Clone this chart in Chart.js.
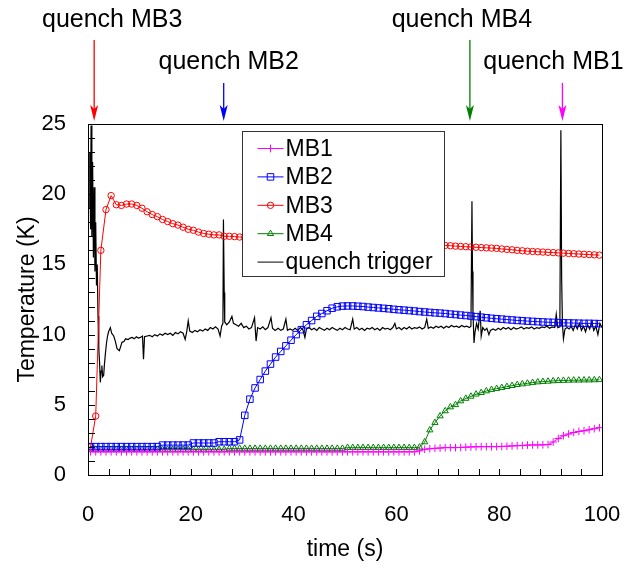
<!DOCTYPE html>
<html>
<head>
<meta charset="utf-8">
<script src="https://cdn.jsdelivr.net/npm/chart.js@4.4.0/dist/chart.umd.min.js"></script>
<style>
  html, body { margin: 0; padding: 0; background: #fff; }
</style>
</head>
<body>
<canvas id="quenchChart" width="625" height="571"></canvas>
<script>
// sample times of the magnet temperatures (s)
const seconds = [
  0.5, 1.5, 2.5, 3.5, 4.5, 5.5, 6.5, 7.5, 8.5, 9.5,
  10.5, 11.5, 12.5, 13.5, 14.5, 15.5, 16.5, 17.5, 18.5, 19.5,
  20.5, 21.5, 22.5, 23.5, 24.5, 25.5, 26.5, 27.5, 28.5, 29.5,
  30.5, 31.5, 32.5, 33.5, 34.5, 35.5, 36.5, 37.5, 38.5, 39.5,
  40.5, 41.5, 42.5, 43.5, 44.5, 45.5, 46.5, 47.5, 48.5, 49.5,
  50.5, 51.5, 52.5, 53.5, 54.5, 55.5, 56.5, 57.5, 58.5, 59.5,
  60.5, 61.5, 62.5, 63.5, 64.5, 65.5, 66.5, 67.5, 68.5, 69.5,
  70.5, 71.5, 72.5, 73.5, 74.5, 75.5, 76.5, 77.5, 78.5, 79.5,
  80.5, 81.5, 82.5, 83.5, 84.5, 85.5, 86.5, 87.5, 88.5, 89.5,
  90.5, 91.5, 92.5, 93.5, 94.5, 95.5, 96.5, 97.5, 98.5, 99.5
];

const mb1 = [
  1.65, 1.65, 1.65, 1.65, 1.65, 1.65, 1.65, 1.65, 1.65, 1.65,
  1.65, 1.65, 1.65, 1.65, 1.65, 1.65, 1.65, 1.65, 1.65, 1.65,
  1.65, 1.65, 1.65, 1.65, 1.65, 1.65, 1.65, 1.65, 1.65, 1.65,
  1.65, 1.65, 1.65, 1.65, 1.65, 1.65, 1.65, 1.65, 1.65, 1.65,
  1.65, 1.65, 1.65, 1.65, 1.65, 1.65, 1.65, 1.65, 1.65, 1.65,
  1.65, 1.65, 1.65, 1.65, 1.65, 1.65, 1.65, 1.65, 1.65, 1.65,
  1.65, 1.65, 1.65, 1.65, 1.72, 1.83, 1.87, 1.9, 1.92, 1.95,
  1.95, 1.95, 1.96, 1.98, 2.0, 2.01, 2.02, 2.02, 2.02, 2.02,
  2.03, 2.05, 2.07, 2.09, 2.1, 2.13, 2.14, 2.14, 2.15, 2.17,
  2.35, 2.6, 2.8, 2.92, 3.03, 3.1, 3.15, 3.22, 3.3, 3.37
];

const mb2 = [
  2.02, 2.02, 2.02, 2.02, 2.02, 2.02, 2.02, 2.02, 2.02, 2.02,
  2.02, 2.02, 2.02, 2.02, 2.13, 2.13, 2.13, 2.13, 2.13, 2.13,
  2.28, 2.28, 2.28, 2.28, 2.28, 2.37, 2.37, 2.37, 2.37, 2.5,
  4.25, 5.4, 6.2, 6.8, 7.4, 7.9, 8.4, 8.8, 9.2, 9.6,
  10.0, 10.35, 10.7, 11.0, 11.3, 11.5, 11.7, 11.88, 11.98, 12.03,
  12.04, 12.04, 12.02, 12.0, 11.96, 11.93, 11.9, 11.87, 11.84, 11.8,
  11.77, 11.74, 11.71, 11.68, 11.64, 11.61, 11.58, 11.55, 11.53, 11.5,
  11.46, 11.43, 11.39, 11.36, 11.32, 11.28, 11.24, 11.2, 11.16, 11.13,
  11.1, 11.07, 11.04, 11.01, 10.99, 10.96, 10.94, 10.92, 10.9, 10.88,
  10.87, 10.85, 10.84, 10.83, 10.82, 10.81, 10.8, 10.8, 10.79, 10.78
];

const mb3 = [
  2.0, 4.2, 16.0, 18.9, 19.9, 19.25, 19.2, 19.3, 19.3, 19.2,
  19.0, 18.75, 18.55, 18.4, 18.2, 18.05, 17.9, 17.8, 17.65, 17.5,
  17.43, 17.3, 17.2, 17.15, 17.1, 17.1, 17.0, 17.0, 16.98, 16.95,
  16.93, 16.9, 16.88, 16.86, 16.84, 16.82, 16.8, 16.78, 16.77, 16.75,
  16.73, 16.72, 16.7, 16.68, 16.67, 16.65, 16.64, 16.62, 16.61, 16.6,
  16.58, 16.57, 16.55, 16.54, 16.53, 16.52, 16.5, 16.49, 16.48, 16.47,
  16.46, 16.45, 16.44, 16.43, 16.42, 16.41, 16.4, 16.39, 16.37, 16.35,
  16.33, 16.3, 16.28, 16.26, 16.24, 16.22, 16.2, 16.18, 16.16, 16.14,
  16.1, 16.07, 16.04, 16.0, 15.97, 15.94, 15.92, 15.9, 15.88, 15.86,
  15.84, 15.82, 15.8, 15.78, 15.76, 15.74, 15.72, 15.7, 15.68, 15.66
];

const mb4 = [
  1.82, 1.82, 1.82, 1.82, 1.82, 1.82, 1.82, 1.82, 1.82, 1.82,
  1.82, 1.82, 1.82, 1.82, 1.82, 1.82, 1.82, 1.82, 1.82, 1.82,
  1.82, 1.82, 1.82, 1.82, 1.82, 1.82, 1.82, 1.89, 1.89, 1.89,
  1.89, 1.89, 1.89, 1.89, 1.89, 1.89, 1.89, 1.89, 1.89, 1.89,
  1.89, 1.89, 1.89, 1.89, 1.89, 1.89, 1.89, 1.89, 1.89, 1.89,
  1.95, 1.95, 1.95, 1.95, 1.95, 1.95, 1.95, 1.95, 1.95, 1.95,
  1.95, 1.95, 1.95, 1.95, 1.98, 2.35, 3.2, 3.73, 4.2, 4.56,
  4.84, 5.0, 5.27, 5.45, 5.6, 5.75, 5.86, 5.98, 6.08, 6.15,
  6.22, 6.29, 6.36, 6.43, 6.48, 6.53, 6.58, 6.62, 6.65, 6.67,
  6.7, 6.72, 6.73, 6.74, 6.75, 6.75, 6.76, 6.76, 6.77, 6.78
];

// quench trigger signal, own time base
const trigTime = [
  0.2, 0.35, 0.5, 0.6, 0.75, 0.9, 1.05, 1.2, 1.35, 1.5,
  1.65, 1.8, 1.95, 2.1, 2.25, 2.4, 2.55, 2.7, 2.85, 3.05,
  3.2, 3.4, 3.6, 3.8, 4.0, 4.35, 4.6, 5.0, 5.3, 5.65,
  6.1, 6.4, 6.6, 7.0, 7.3, 7.8, 8.2, 8.6, 9.0, 9.4,
  9.8, 10.2, 10.6, 10.8, 11.0, 11.5, 12.0, 12.5, 13.0, 13.5,
  14.0, 14.5, 15.0, 15.5, 16.0, 16.5, 17.0, 17.5, 18.0, 18.5,
  18.9, 19.2, 19.5, 19.8, 20.3, 20.8, 21.3, 21.8, 22.3, 22.8,
  23.3, 23.8, 24.3, 24.8, 25.3, 25.7, 26.0, 26.25, 26.35, 26.5,
  26.6, 27.0, 27.5, 28.0, 28.3, 28.8, 29.3, 29.8, 30.3, 30.8,
  31.3, 31.8, 32.4, 32.7, 33.0, 33.5, 34.0, 34.5, 35.0, 35.6,
  35.9, 36.4, 37.0, 37.5, 38.0, 38.5, 38.8, 39.3, 39.8, 40.3,
  40.8, 41.3, 41.8, 42.2, 42.5, 43.0, 43.5, 44.0, 44.5, 45.0,
  45.5, 46.0, 46.5, 47.0, 47.5, 48.0, 48.5, 49.0, 49.5, 50.0,
  50.5, 51.0, 51.5, 51.8, 52.3, 52.8, 53.3, 53.8, 54.3, 54.8,
  55.3, 55.8, 56.3, 56.8, 57.3, 57.8, 58.3, 58.8, 59.3, 59.7,
  60.0, 60.5, 61.0, 61.5, 62.0, 62.5, 63.0, 63.5, 64.0, 64.5,
  65.0, 65.5, 65.9, 66.2, 66.7, 67.2, 67.7, 68.2, 68.7, 69.2,
  69.7, 70.2, 70.7, 71.2, 71.7, 72.2, 72.7, 73.2, 73.7, 74.2,
  74.5, 74.7, 74.8, 74.9, 75.1, 75.3, 75.6, 75.9, 76.3, 76.5,
  76.8, 77.2, 77.6, 78.0, 78.3, 78.8, 79.3, 79.8, 80.3, 80.8,
  81.3, 81.8, 82.3, 82.8, 83.3, 83.8, 84.3, 84.8, 85.3, 85.8,
  86.3, 86.8, 87.3, 87.8, 88.3, 88.8, 89.3, 89.8, 90.3, 90.8,
  91.1, 91.4, 91.8, 92.0, 92.15, 92.3, 92.5, 92.8, 93.2, 93.6,
  94.0, 94.4, 94.8, 95.2, 95.6, 96.0, 96.4, 96.8, 97.2, 97.6,
  98.0, 98.4, 98.8, 99.2, 99.6, 100.0
];
const trigTemp = [
  19.0, 23.0, 17.5, 24.9, 17.0, 22.3, 15.5, 20.5, 14.5, 18.0,
  13.5, 15.0, 11.3, 9.0, 8.0, 6.6, 7.4, 7.8, 7.0, 7.1,
  7.9, 8.7, 9.4, 9.9, 10.2, 10.5, 10.1, 9.9, 9.55, 9.0,
  8.85, 9.2, 9.45, 9.5, 9.7, 9.65, 9.75, 9.8, 9.7, 9.85,
  9.75, 9.8, 9.9, 8.24, 9.85, 9.9, 9.95, 9.85, 10.0, 9.9,
  10.05, 9.95, 10.1, 10.0, 10.1, 9.95, 10.15, 10.05, 10.2, 10.1,
  9.66, 10.2, 10.97, 10.25, 10.15, 10.3, 10.2, 10.35, 10.25, 10.4,
  10.3, 10.5, 10.4, 10.55, 10.4, 9.9, 10.6, 10.8, 18.2, 13.0,
  10.9, 10.7, 10.9, 11.3, 10.8, 10.7, 10.6, 10.8, 10.5, 10.6,
  10.4, 10.5, 11.2, 9.54, 10.5, 10.4, 10.55, 10.35, 10.5, 11.2,
  10.45, 10.3, 10.45, 10.3, 10.4, 11.1, 10.3, 10.4, 10.3, 10.45,
  10.3, 10.5, 10.35, 9.8, 10.4, 10.5, 10.35, 10.45, 10.3, 10.5,
  10.4, 10.3, 10.45, 10.35, 10.5, 10.4, 10.3, 10.45, 10.35, 10.5,
  10.4, 10.35, 11.1, 10.4, 10.5, 10.35, 10.45, 10.3, 10.45, 10.4,
  10.5, 10.35, 10.45, 10.3, 10.5, 10.4, 10.45, 10.35, 10.5, 10.8,
  10.4, 10.5, 10.35, 10.5, 10.4, 10.55, 10.4, 10.5, 10.45, 10.55,
  10.4, 10.5, 11.1, 10.45, 10.55, 10.45, 10.6, 10.5, 10.6, 10.45,
  10.6, 10.5, 10.65, 10.55, 10.6, 10.5, 10.65, 10.55, 10.6, 10.5,
  10.6, 19.5, 14.5, 11.5, 9.4, 10.2, 10.8, 10.4, 11.7, 9.9,
  10.5, 10.3, 10.45, 10.0, 10.3, 10.4, 10.3, 10.45, 10.35, 10.5,
  10.4, 10.5, 10.35, 10.5, 10.4, 10.45, 10.55, 10.4, 10.5, 10.45,
  10.55, 10.4, 10.5, 10.45, 10.55, 10.5, 10.6, 10.45, 10.55, 10.5,
  11.45, 10.5, 10.55, 24.55, 14.0, 10.8, 9.7, 10.4, 10.5, 10.4,
  10.6, 10.3, 10.7, 10.4, 10.8, 10.3, 10.6, 10.2, 10.7, 10.4,
  10.9, 10.3, 10.6, 10.0, 10.8, 10.5
];

const seriesNames = ["MB1", "MB2", "MB3", "MB4", "quench trigger"];
const seriesColors = ["#ff00ff", "#0000ff", "#ff0000", "#008000", "#000000"];
const seriesMarkers = ["cross", "rect", "circle", "triangle", false];
const markerSizes = [3.8, 4.6, 3.2, 3.6, 0];
const lineWidths = [1, 1, 1, 1, 1.2];

// arrows above the plot
const quenchNames = ["quench MB3", "quench MB2", "quench MB4", "quench MB1"];
const quenchTimes = [1.2, 26.4, 74.3, 92.3];
const quenchColors = ["#ff0000", "#0000ff", "#008000", "#ff00ff"];
const quenchRow = [0, 1, 0, 1];            // 0 = upper text line, 1 = lower
const quenchTextShift = [18, 5, -8, -9];   // text centre relative to arrow (px)

const FONT = "'Liberation Sans', Arial, sans-serif";

function toPoints(xs, ys) {
    return xs.map((x, i) => ({ x: x, y: ys[i] }));
}

const seriesData = [
    toPoints(seconds, mb1),
    toPoints(seconds, mb2),
    toPoints(seconds, mb3),
    toPoints(seconds, mb4),
    toPoints(trigTime, trigTemp)
];

const datasets = seriesNames.map((name, i) => ({
    label: name,
    data: seriesData[i],
    borderColor: seriesColors[i],
    borderWidth: lineWidths[i],
    pointStyle: seriesMarkers[i],
    pointRadius: markerSizes[i],
    pointBorderColor: seriesColors[i],
    pointBackgroundColor: "rgba(0,0,0,0)",
    pointBorderWidth: 1,
    tension: 0
}));

// frame, inward tick marks, legend box and quench arrows
const decorations = {
    id: "decorations",
    afterDatasetsDraw(chart) {
        const ctx = chart.ctx;
        const area = chart.chartArea;
        const xs = chart.scales.x;
        const ys = chart.scales.y;

        ctx.save();
        ctx.strokeStyle = "#000";
        ctx.lineWidth = 1;
        ctx.beginPath();
        xs.ticks.forEach(t => {
            const px = Math.round(xs.getPixelForValue(t.value)) + 0.5;
            ctx.moveTo(px, area.bottom);
            ctx.lineTo(px, area.bottom - 6);
        });
        ys.ticks.forEach(t => {
            const py = Math.round(ys.getPixelForValue(t.value)) + 0.5;
            ctx.moveTo(area.left, py);
            ctx.lineTo(area.left + 7, py);
        });
        ctx.stroke();
        ctx.strokeRect(Math.round(area.left) + 0.5, Math.round(area.top) + 0.5,
            Math.round(area.right - area.left), Math.round(area.bottom - area.top));

        // legend
        const bx = Math.round(area.left + 154) + 0.5;
        const by = Math.round(area.top + 7) + 0.5;
        ctx.fillStyle = "#fff";
        ctx.fillRect(bx, by, 202, 145);
        ctx.strokeStyle = "#333";
        ctx.strokeRect(bx, by, 202, 145);
        ctx.font = "23px " + FONT;
        ctx.textBaseline = "middle";
        ctx.textAlign = "left";
        seriesNames.forEach((name, i) => {
            const rowY = by + 17 + i * 28.4;
            ctx.strokeStyle = seriesColors[i];
            ctx.lineWidth = 1;
            ctx.beginPath();
            ctx.moveTo(bx + 15, rowY);
            ctx.lineTo(bx + 41, rowY);
            ctx.stroke();
            if (seriesMarkers[i]) {
                ctx.fillStyle = "rgba(0,0,0,0)";
                Chart.helpers.drawPoint(ctx, {
                    pointStyle: seriesMarkers[i],
                    radius: markerSizes[i],
                    rotation: 0,
                    borderWidth: 1
                }, bx + 28, rowY);
            }
            ctx.fillStyle = "#000";
            ctx.fillText(name, bx + 43, rowY + 1);
        });

        // quench arrows
        ctx.font = "25px " + FONT;
        ctx.textAlign = "center";
        quenchNames.forEach((name, i) => {
            const px = xs.getPixelForValue(quenchTimes[i]);
            const tipY = area.top - 3;
            const topY = quenchRow[i] === 0 ? 40 : 83;
            ctx.strokeStyle = quenchColors[i];
            ctx.fillStyle = quenchColors[i];
            ctx.lineWidth = 1.3;
            ctx.beginPath();
            ctx.moveTo(px, topY);
            ctx.lineTo(px, tipY - 10);
            ctx.stroke();
            ctx.beginPath();
            ctx.moveTo(px - 4, tipY - 16);
            ctx.lineTo(px, tipY - 12);
            ctx.lineTo(px + 4, tipY - 16);
            ctx.lineTo(px, tipY);
            ctx.closePath();
            ctx.fill();
            ctx.fillStyle = "#000";
            ctx.fillText(name, px + quenchTextShift[i], quenchRow[i] === 0 ? 20 : 62);
        });
        ctx.restore();
    }
};

new Chart(document.getElementById("quenchChart"), {
    type: "line",
    data: { datasets: datasets },
    options: {
        responsive: false,
        animation: false,
        layout: { padding: { top: 124, right: 23, bottom: 0, left: 0 } },
        plugins: {
            legend: { display: false },
            tooltip: { enabled: false }
        },
        scales: {
            x: {
                type: "linear",
                min: 0,
                max: 100,
                grid: { display: false, drawTicks: false },
                border: { display: false },
                ticks: {
                    stepSize: 4,
                    autoSkip: false,
                    maxRotation: 0,
                    padding: 27,
                    color: "#000",
                    font: { family: FONT, size: 22 },
                    callback: v => (v % 20 === 0 ? v : "")
                },
                title: {
                    display: true,
                    text: "time (s)",
                    color: "#000",
                    font: { family: FONT, size: 23 },
                    padding: { top: 0, bottom: 8 }
                },
                afterFit: scale => {
                    scale.height = 96;
                    scale.paddingLeft = 0;
                    scale.paddingRight = 0;
                }
            },
            y: {
                min: 0,
                max: 25,
                grid: { display: false, drawTicks: false },
                border: { display: false },
                ticks: {
                    stepSize: 1,
                    autoSkip: false,
                    padding: 22,
                    color: "#000",
                    font: { family: FONT, size: 22 },
                    callback: v => (v % 5 === 0 ? v : "")
                },
                title: {
                    display: true,
                    text: "Temperature (K)",
                    color: "#000",
                    font: { family: FONT, size: 23 },
                    padding: { top: 14, bottom: 0 }
                },
                afterFit: scale => {
                    scale.width = 88;
                    scale.paddingTop = 0;
                    scale.paddingBottom = 0;
                }
            }
        }
    },
    plugins: [decorations]
});
</script>
</body>
</html>
